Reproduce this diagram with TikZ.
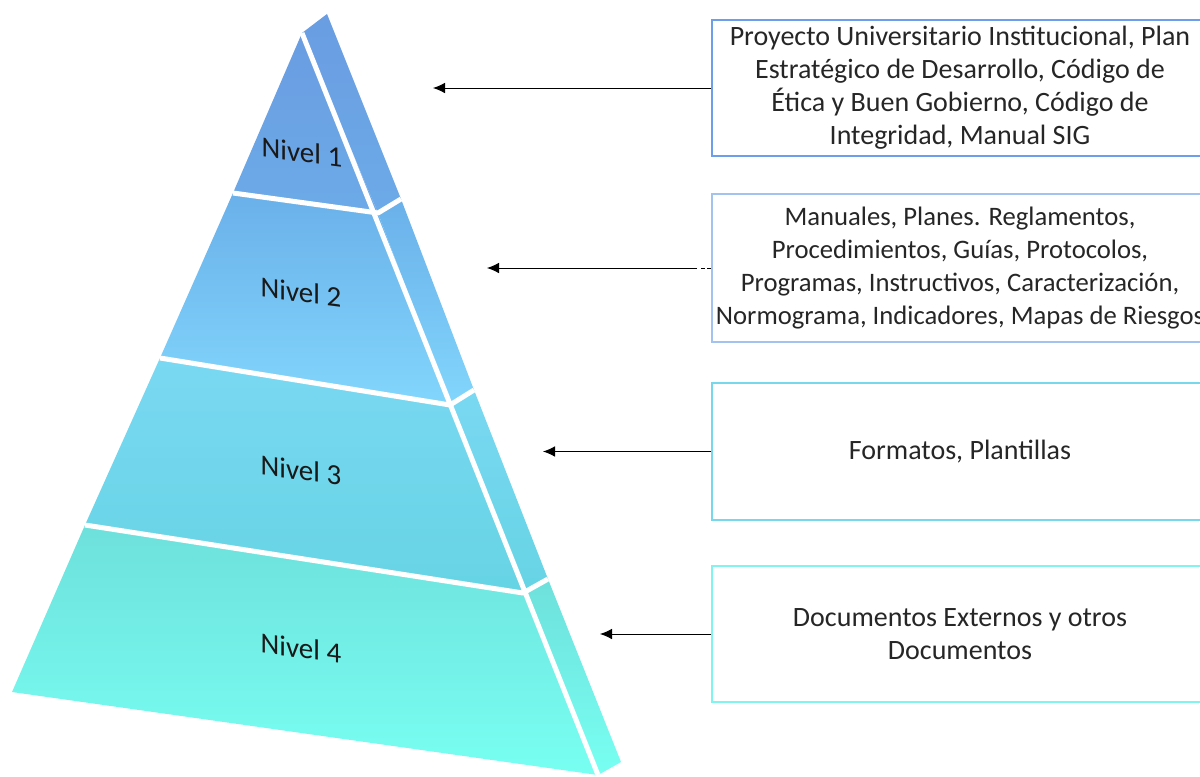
\documentclass[tikz,border=0pt]{standalone}
\usepackage{fontspec}
\setmainfont{Carlito}
\usepackage{tikz}
\usetikzlibrary{arrows.meta,positioning}
\definecolor{bordeuno}{HTML}{6D9EEB}
\definecolor{bordedos}{HTML}{A4C2F0}
\definecolor{bordetres}{HTML}{76D8EA}
\definecolor{bordecuatro}{HTML}{80F4EE}
\definecolor{unoa}{HTML}{6A9DE2}
\definecolor{unob}{HTML}{6CAAE8}
\definecolor{dosa}{HTML}{6AB0EA}
\definecolor{dosb}{HTML}{82D6FC}
\definecolor{tresa}{HTML}{7AD8F2}
\definecolor{tresb}{HTML}{66D4E4}
\definecolor{cuatroa}{HTML}{6EE0DC}
\definecolor{cuatrob}{HTML}{78FFF2}

\begin{document}
\begin{tikzpicture}[x=0.75pt,y=-0.75pt,
  caja/.style={draw,line width=1.5pt,align=center,minimum width=372pt,font=\fontsize{21}{24.75}\selectfont,text=black!85},
  nivel/.style={font=\fontsize{21.75}{26}\selectfont,yslant=-0.13,text=black!90},
  flecha/.style={-{Latex[length=9pt,width=8pt]},line width=0.75pt},
  sep/.style={draw=white,line width=3.75pt,line join=round}
]
\useasboundingbox (0,0) rectangle (1200,776);
% puntos de la piramide
\coordinate (a) at (302,33);
\coordinate (st) at (327,14);
\coordinate (l1) at (233,193); \coordinate (r1) at (378,213); \coordinate (s1) at (401,199);
\coordinate (l2) at (160,358); \coordinate (r2) at (450,405); \coordinate (s2) at (474,390);
\coordinate (l3) at (85,525);  \coordinate (r3) at (523,593); \coordinate (s3) at (548,579);
\coordinate (l4) at (12,692);  \coordinate (r4) at (598,775); \coordinate (s4) at (621,762);
% caras frontales
\shade[top color=unoa,bottom color=unob] (a) -- (r1) -- (l1) -- cycle;
\shade[top color=dosa,bottom color=dosb] (l1) -- (r1) -- (r2) -- (l2) -- cycle;
\shade[top color=tresa,bottom color=tresb] (l2) -- (r2) -- (r3) -- (l3) -- cycle;
\shade[top color=cuatroa,bottom color=cuatrob] (l3) -- (r3) -- (r4) -- (l4) -- cycle;
% cara lateral
\shade[top color=unoa,bottom color=unob] (a) -- (st) -- (s1) -- (r1) -- cycle;
\shade[top color=dosa,bottom color=dosb] (r1) -- (s1) -- (s2) -- (r2) -- cycle;
\shade[top color=tresa,bottom color=tresb] (r2) -- (s2) -- (s3) -- (r3) -- cycle;
\shade[top color=cuatroa,bottom color=cuatrob] (r3) -- (s3) -- (s4) -- (r4) -- cycle;
% separaciones blancas
\draw[sep] (a) -- (r4);
\draw[sep] (l1) -- (r1) -- (s1);
\draw[sep] (l2) -- (r2) -- (s2);
\draw[sep] (l3) -- (r3) -- (s3);
% niveles
\node[nivel] (niv1) at (302,152) {Nivel 1};
\node[nivel] (niv2) at (301,292) {Nivel 2};
\node[nivel] (niv3) at (301,470) {Nivel 3};
\node[nivel] (niv4) at (301,648) {Nivel 4};
% cajas
\node[caja,draw=bordeuno,minimum height=102pt] (doc1) at (960,88) {Proyecto Universitario Institucional, Plan\\Estratégico de Desarrollo, Código de\\Ética y Buen Gobierno, Código de\\Integridad, Manual SIG};
\node[caja,draw=bordedos,line width=1.2pt,minimum height=111pt,inner xsep=0pt,font=\fontsize{20}{24.75}\selectfont] (doc2) at (960,268) {Manuales, Planes. Reglamentos,\\Procedimientos, Guías, Protocolos,\\Programas, Instructivos, Caracterización,\\Normograma, Indicadores, Mapas de Riesgos};
\node[caja,draw=bordetres,minimum height=102.75pt] (doc3) at (960,451.5) {Formatos, Plantillas};
\node[caja,draw=bordecuatro,minimum height=102pt] (doc4) at (960,634) {Documentos Externos y otros\\Documentos};
% flechas
\coordinate (p1) at (433,88);
\coordinate (p2) at (487,268);
\coordinate (p3) at (543,451.5);
\coordinate (p4) at (600,634);
\draw[flecha] (doc1.west) -- (p1);
\draw[flecha,dash pattern={on 3pt off 1.5pt on 3pt off 3pt on 400pt}] (doc2.west) -- (p2);
\draw[flecha] (doc3.west) -- (p3);
\draw[flecha] (doc4.west) -- (p4);
\end{tikzpicture}
\end{document}
